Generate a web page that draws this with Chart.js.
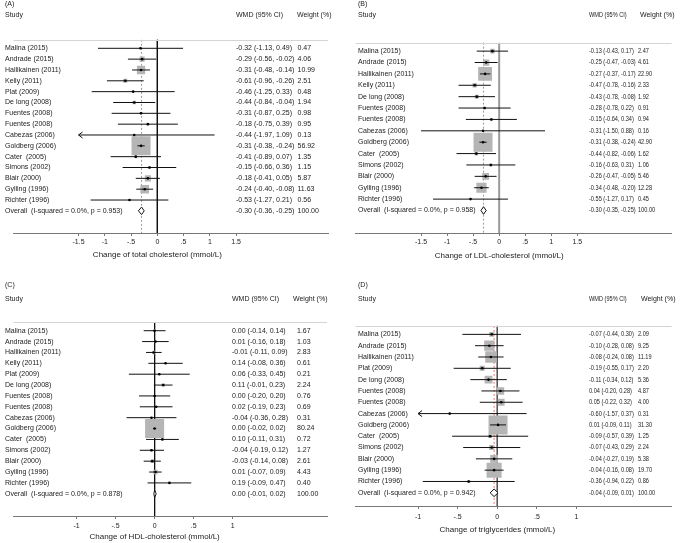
<!DOCTYPE html>
<html>
<head>
<meta charset="utf-8">
<script src="https://cdn.jsdelivr.net/npm/chart.js@4.4.1/dist/chart.umd.min.js"></script>
<style>
  body { margin: 0; background: #fff; width: 685px; height: 543px; position: relative; overflow: hidden; }
  canvas { position: absolute; }
</style>
</head>
<body>
<canvas id="panelA" width="342" height="270" style="left:0;top:0"></canvas>
<canvas id="panelB" width="343" height="270" style="left:342px;top:0"></canvas>
<canvas id="panelC" width="342" height="273" style="left:0;top:270px"></canvas>
<canvas id="panelD" width="343" height="273" style="left:342px;top:270px"></canvas>
<script>
// (A) total cholesterol
const studiesA = ['Malina (2015)', 'Andrade (2015)', 'Hallikainen (2011)', 'Kelly (2011)', 'Plat (2009)', 'De long (2008)', 'Fuentes (2008)', 'Fuentes (2008)', 'Cabezas (2006)', 'Goldberg (2006)', 'Cater  (2005)', 'Simons (2002)', 'Blair (2000)', 'Gylling (1996)', 'Richter (1996)'];
const wmdA = [-0.32, -0.29, -0.31, -0.61, -0.46, -0.44, -0.31, -0.18, -0.44, -0.31, -0.41, -0.15, -0.18, -0.24, -0.53];
const lowA = [-1.13, -0.56, -0.48, -0.96, -1.25, -0.84, -0.87, -0.75, -1.97, -0.38, -0.89, -0.66, -0.41, -0.40, -1.27];
const highA = [0.49, -0.02, -0.14, -0.26, 0.33, -0.04, 0.25, 0.39, 1.09, -0.24, 0.07, 0.36, 0.05, -0.08, 0.21];
const weightA = [0.47, 4.06, 10.99, 2.51, 0.48, 1.94, 0.98, 0.95, 0.13, 56.92, 1.35, 1.15, 5.87, 11.63, 0.56];
const overallA = [-0.30, -0.36, -0.25];
const hetA = ['0.0%', '0.953'];

// (B) LDL-cholesterol
const studiesB = ['Malina (2015)', 'Andrade (2015)', 'Hallikainen (2011)', 'Kelly (2011)', 'De long (2008)', 'Fuentes (2008)', 'Fuentes (2008)', 'Cabezas (2006)', 'Goldberg (2006)', 'Cater  (2005)', 'Simons (2002)', 'Blair (2000)', 'Gylling (1996)', 'Richter (1996)'];
const wmdB = [-0.13, -0.25, -0.27, -0.47, -0.43, -0.28, -0.15, -0.31, -0.31, -0.44, -0.16, -0.26, -0.34, -0.55];
const lowB = [-0.43, -0.47, -0.37, -0.78, -0.78, -0.78, -0.64, -1.50, -0.38, -0.82, -0.63, -0.47, -0.48, -1.27];
const highB = [0.17, -0.03, -0.17, -0.16, -0.08, 0.22, 0.34, 0.88, -0.24, -0.06, 0.31, -0.05, -0.20, 0.17];
const weightB = [2.47, 4.61, 22.90, 2.33, 1.92, 0.91, 0.94, 0.16, 42.90, 1.62, 1.06, 5.46, 12.28, 0.45];
const overallB = [-0.30, -0.35, -0.25];
const hetB = ['0.0%', '0.958'];

// (C) HDL-cholesterol
const studiesC = studiesA;
const wmdC = [0.00, 0.01, -0.01, 0.14, 0.06, 0.11, 0.00, 0.02, -0.04, 0.00, 0.10, -0.04, -0.03, 0.01, 0.19];
const lowC = [-0.14, -0.16, -0.11, -0.08, -0.33, -0.01, -0.20, -0.19, -0.36, -0.02, -0.11, -0.19, -0.14, -0.07, -0.09];
const highC = [0.14, 0.18, 0.09, 0.36, 0.45, 0.23, 0.20, 0.23, 0.28, 0.02, 0.31, 0.12, 0.08, 0.09, 0.47];
const weightC = [1.67, 1.03, 2.83, 0.61, 0.21, 2.24, 0.76, 0.69, 0.31, 80.24, 0.72, 1.27, 2.61, 4.43, 0.40];
const overallC = [0.00, -0.01, 0.02];
const hetC = ['0.0%', '0.878'];

// (D) triglycerides
const studiesD = ['Malina (2015)', 'Andrade (2015)', 'Hallikainen (2011)', 'Plat (2009)', 'De long (2008)', 'Fuentes (2008)', 'Fuentes (2008)', 'Cabezas (2006)', 'Goldberg (2006)', 'Cater  (2005)', 'Simons (2002)', 'Blair (2000)', 'Gylling (1996)', 'Richter (1996)'];
const wmdD = [-0.07, -0.10, -0.08, -0.19, -0.11, 0.04, 0.05, -0.60, 0.01, -0.09, -0.07, -0.04, -0.04, -0.36];
const lowD = [-0.44, -0.28, -0.24, -0.55, -0.34, -0.20, -0.22, -1.57, -0.09, -0.57, -0.43, -0.27, -0.16, -0.94];
const highD = [0.30, 0.08, 0.08, 0.17, 0.12, 0.28, 0.32, 0.37, 0.11, 0.39, 0.29, 0.19, 0.08, 0.22];
const weightD = [2.09, 9.25, 11.19, 2.20, 5.36, 4.87, 4.00, 0.31, 31.30, 1.25, 2.24, 5.38, 19.70, 0.86];
const overallD = [-0.04, -0.09, 0.01];
const hetD = ['0.0%', '0.942'];

const ticksAB = [-1.5, -1, -0.5, 0, 0.5, 1, 1.5];
const ticksCD = [-1, -0.5, 0, 0.5, 1];

const FONT = '"Liberation Sans", Arial, Helvetica, sans-serif';
const INK = '#222';
const BOX = 19;         // side of the biggest weight box, px
const DIAMOND_H = 4;    // half height of overall diamond, px

const fmt = v => v.toFixed(2);
const wmdText = (e, l, h) => `${fmt(e)} (${fmt(l)}, ${fmt(h)})`;
const tickText = v => v === 0 ? '0' : String(v).replace(/^(-?)0\./, '$1.');

const drawPanel = (id, d, L) => {
    const n = d.studies.length;
    const yMin = -L.firstRow / L.rowStep;
    const yMax = (L.axisY - L.firstRow) / L.rowStep;
    const topRow = (L.lineY - L.firstRow) / L.rowStep;
    const tMin = d.ticks[0], tMax = d.ticks[d.ticks.length - 1];
    const wMax = Math.max(...d.weight);
    const rows = d.studies.map((s, i) => i);

    const ci = [];
    rows.forEach(i => {
        ci.push({x: Math.max(d.low[i], tMin), y: i}, {x: Math.min(d.high[i], tMax), y: i}, {x: NaN, y: NaN});
    });
    const pts = rows.map(i => ({x: d.wmd[i], y: i}));
    const boxR = rows.map(i => BOX * Math.sqrt(d.weight[i] / wMax) / Math.SQRT2);
    const [oe, ol, oh] = d.overall;
    const dh = DIAMOND_H / L.rowStep;
    const diamond = [{x: ol, y: n}, {x: oe, y: n - dh}, {x: oh, y: n}, {x: oe, y: n + dh}, {x: ol, y: n}];

    const tablePlugin = {
        id: 'table' + id,
        afterDraw(chart) {
            const {ctx, chartArea: a, scales: {x, y}} = chart;
            ctx.save();
            // header rule
            ctx.strokeStyle = '#d4d4d4';
            ctx.lineWidth = 1;
            const ly = Math.round(y.getPixelForValue(topRow)) + 0.5;
            ctx.beginPath(); ctx.moveTo(a.left, ly); ctx.lineTo(a.right, ly); ctx.stroke();

            ctx.fillStyle = INK;
            ctx.textBaseline = 'middle';
            ctx.font = `7px ${FONT}`;
            // numbers in B and D are narrower than the study names
            const num = (txt, px, py) => {
                ctx.save();
                ctx.translate(px, py);
                ctx.scale(L.numStretch, 1);
                ctx.fillText(txt, 0, 0);
                ctx.restore();
                return px + ctx.measureText(txt).width * L.numStretch;
            };
            ctx.fillText(d.letter, L.nameX, L.letterY);
            ctx.fillText('Study', L.nameX, L.headY);
            num('WMD (95% CI)', L.wmdX, L.headY);
            ctx.fillText('Weight (%)', L.wtHeadX, L.headY);

            const row = (name, wmd, wt, py) => {
                ctx.fillText(name, L.nameX, py);
                const end = num(wmd, L.wmdX, py);
                num(wt, Math.max(L.wtX, end + 2), py);
            };
            rows.forEach(i => row(d.studies[i], wmdText(d.wmd[i], d.low[i], d.high[i]), fmt(d.weight[i]), y.getPixelForValue(i)));
            row(`Overall  (I-squared = ${d.het[0]}, p = ${d.het[1]})`, wmdText(oe, ol, oh), fmt(100), y.getPixelForValue(n));

            // axis title, centred on the ticked range
            ctx.font = `8px ${FONT}`;
            ctx.textAlign = 'center';
            ctx.fillText(d.xTitle, x.getPixelForValue((tMin + tMax) / 2), L.titleY);

            // arrows where the interval runs past the ticked range
            ctx.strokeStyle = '#111';
            rows.forEach(i => {
                const py = y.getPixelForValue(i);
                if (d.low[i] < tMin) {
                    const px = x.getPixelForValue(tMin);
                    ctx.beginPath(); ctx.moveTo(px + 4, py - 3); ctx.lineTo(px, py); ctx.lineTo(px + 4, py + 3); ctx.stroke();
                }
                if (d.high[i] > tMax) {
                    const px = x.getPixelForValue(tMax);
                    ctx.beginPath(); ctx.moveTo(px - 4, py - 3); ctx.lineTo(px, py); ctx.lineTo(px - 4, py + 3); ctx.stroke();
                }
            });
            ctx.restore();
        }
    };

    new Chart(id, {
        type: 'scatter',
        data: {
            datasets: [
                {   // point estimate
                    data: pts,
                    pointStyle: 'circle',
                    pointRadius: 1.3,
                    backgroundColor: '#000',
                    borderWidth: 0
                },
                {   // confidence intervals
                    data: ci,
                    showLine: true,
                    borderColor: '#111',
                    borderWidth: 1,
                    pointRadius: 0
                },
                {   // overall diamond
                    data: diamond,
                    showLine: true,
                    borderColor: '#111',
                    borderWidth: 1,
                    backgroundColor: '#fff',
                    fill: 'shape',
                    pointRadius: 0
                },
                {   // weight boxes
                    data: pts,
                    pointStyle: 'rect',
                    pointRadius: boxR,
                    backgroundColor: '#b5b5b5',
                    borderWidth: 0
                },
                {   // no effect
                    data: [{x: 0, y: topRow}, {x: 0, y: yMax}],
                    showLine: true,
                    borderColor: L.zeroColor,
                    borderWidth: L.zeroWidth,
                    pointRadius: 0
                },
                {   // overall effect
                    data: [{x: oe, y: topRow}, {x: oe, y: yMax}],
                    showLine: true,
                    borderColor: '#e07a7a',
                    borderWidth: 1,
                    borderDash: [2, 2],
                    pointRadius: 0
                }
            ]
        },
        options: {
            responsive: false,
            animation: false,
            devicePixelRatio: 1,
            events: [],
            layout: {padding: {left: L.padL, right: L.padR, top: 0, bottom: 0}},
            plugins: {
                legend: {display: false},
                tooltip: {enabled: false}
            },
            scales: {
                x: {
                    type: 'linear',
                    min: L.xMin,
                    max: L.xMax,
                    afterBuildTicks: s => { s.ticks = d.ticks.map(v => ({value: v})); },
                    afterFit: s => { s.height = L.axisH; },
                    ticks: {
                        callback: v => tickText(v),
                        autoSkip: false,
                        maxRotation: 0,
                        padding: L.tickPad,
                        color: INK,
                        font: {family: FONT, size: 7}
                    },
                    grid: {drawOnChartArea: false, drawTicks: true, tickLength: 3, color: '#777'},
                    border: {color: '#777', width: 1}
                },
                y: {
                    type: 'linear',
                    display: false,
                    reverse: true,
                    min: yMin,
                    max: yMax
                }
            }
        },
        plugins: [tablePlugin]
    });
};

drawPanel('panelA',
    {letter: '(A)', studies: studiesA, wmd: wmdA, low: lowA, high: highA, weight: weightA, overall: overallA, het: hetA, ticks: ticksAB, xTitle: 'Change of total cholesterol (mmol/L)'},
    {padL: 0, padR: 14, xMin: -2.74, xMax: 3.25, firstRow: 37, rowStep: 11.5, axisY: 233, axisH: 37, tickPad: 2, titleY: 255,
     numStretch: 1, nameX: 5, wmdX: 236, wtHeadX: 297, wtX: 297.5, letterY: 4, headY: 15, lineY: 28, zeroColor: '#111', zeroWidth: 1});

drawPanel('panelB',
    {letter: '(B)', studies: studiesB, wmd: wmdB, low: lowB, high: highB, weight: weightB, overall: overallB, het: hetB, ticks: ticksAB, xTitle: 'Change of LDL-cholesterol (mmol/L)'},
    {padL: 13, padR: 2, xMin: -2.76, xMax: 3.31, firstRow: 40, rowStep: 12.08, axisY: 233, axisH: 37, tickPad: 2, titleY: 256,
     numStretch: 0.8, nameX: 16, wmdX: 247, wtHeadX: 298, wtX: 296, letterY: 4, headY: 15, lineY: 31, zeroColor: '#9a9a9a', zeroWidth: 2});

drawPanel('panelC',
    {letter: '(C)', studies: studiesC, wmd: wmdC, low: lowC, high: highC, weight: weightC, overall: overallC, het: hetC, ticks: ticksCD, xTitle: 'Change of HDL-cholesterol (mmol/L)'},
    {padL: 0, padR: 15, xMin: -1.81, xMax: 2.21, firstRow: 50, rowStep: 11.5, axisY: 246, axisH: 27, tickPad: 3, titleY: 267,
     numStretch: 1, nameX: 5, wmdX: 232, wtHeadX: 293, wtX: 297, letterY: 15, headY: 29, lineY: 41, zeroColor: '#111', zeroWidth: 1});

drawPanel('panelD',
    {letter: '(D)', studies: studiesD, wmd: wmdD, low: lowD, high: highD, weight: weightD, overall: overallD, het: hetD, ticks: ticksCD, xTitle: 'Change of triglycerides (mmol/L)'},
    {padL: 13, padR: 2, xMin: -1.79, xMax: 2.2, firstRow: 54, rowStep: 12, axisY: 236, axisH: 37, tickPad: 4, titleY: 260,
     numStretch: 0.8, nameX: 16, wmdX: 247, wtHeadX: 299, wtX: 296, letterY: 15, headY: 29, lineY: 45, zeroColor: '#555', zeroWidth: 1});
</script>
</body>
</html>
